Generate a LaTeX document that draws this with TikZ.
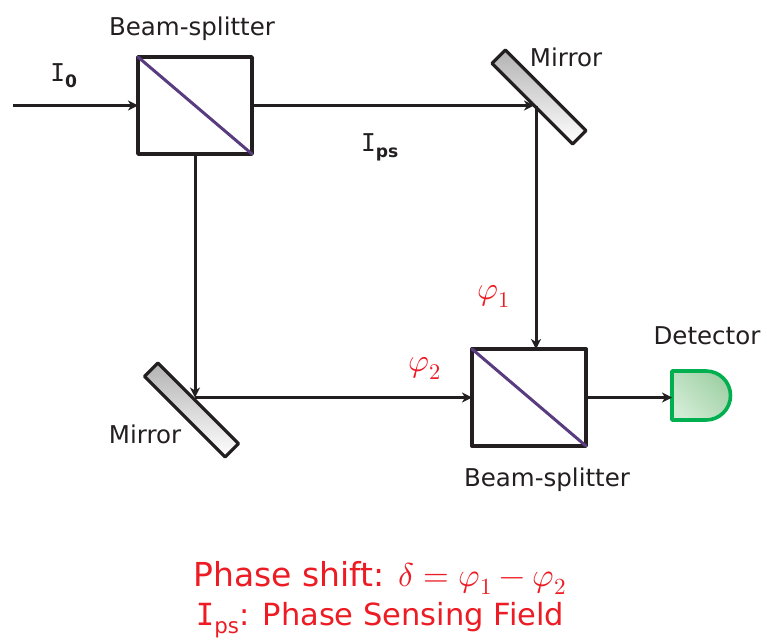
\documentclass[tikz,border=0pt]{standalone}
\usepackage{fontspec}
\usepackage{unicode-math}
\setmainfont{DejaVu Sans}
\setmathfont{Latin Modern Math}
\newfontfamily\barfont{DejaVu Sans Mono}
\usetikzlibrary{arrows.meta}
\definecolor{beam}{RGB}{35,31,32}
\definecolor{split}{RGB}{89,60,128}
\definecolor{redtxt}{RGB}{237,28,36}
\definecolor{detline}{RGB}{0,176,80}
\definecolor{detdark}{RGB}{158,208,165}
\definecolor{detlight}{RGB}{210,235,212}
\newcommand{\barI}{{\barfont I}}
\tikzset{
  every node/.style={inner sep=0pt,outer sep=0pt,text=beam},
  cube/.style={draw=beam,line width=3.4pt,minimum width=114pt,minimum height=97pt,line join=round},
  diag/.style={draw=split,line width=3pt,line cap=round},
  mirrorbar/.style={draw=beam,line width=3.2pt,minimum width=114pt,minimum height=19pt,rotate=-45,line join=round,top color=gray!60,bottom color=white},
  ray/.style={draw=beam,line width=3pt},
  rayarrow/.style={ray,-{Stealth[length=10pt,width=10pt,inset=3pt]}},
  lab/.style={font=\fontsize{24.5}{26}\selectfont},
  redlab/.style={font=\fontsize{33}{36}\selectfont,text=redtxt},
  redlabb/.style={font=\fontsize{30.5}{36}\selectfont,text=redtxt},
  phi/.style={font=\fontsize{32}{32}\selectfont,text=redtxt}
}
\begin{document}
\begin{tikzpicture}[x=1pt,y=-1pt]
\useasboundingbox[fill=white] (0,0) rectangle (767,643);
\node[cube] (bsa) at (195,105.5) {};
\node[cube] (bsb) at (529,397.5) {};
\draw[diag] (bsa.north west) -- (bsa.south east);
\draw[diag] (bsb.north west) -- (bsb.south east);
\node[mirrorbar] (ma) at (539,97) {};
\node[mirrorbar] (mb) at (191.5,410) {};
\coordinate (src) at (13,105.5);
\coordinate (hita) at (536,105.5);
\coordinate (hitb) at (195,397.5);
\coordinate (det) at (672,397.5);
% detector
\shade[top color=detdark,bottom color=detlight,shading angle=-45,draw=detline,line width=3.6pt,line join=round]
  (672,371) -- (706,371) arc[start angle=-90,end angle=90,radius=24.5] -- (672,420) -- cycle;
% beams
\draw[rayarrow] (src) -- (bsa.west);
\draw[rayarrow] (bsa.east) -- ([xshift=-2pt]hita);
\draw[rayarrow] (hita) -- (hita |- bsb.north);
\draw[rayarrow] (bsa.south) -- (hitb);
\draw[rayarrow] (hitb) -- (bsb.west);
\draw[rayarrow] (bsb.east) -- (det);
% labels
\node[lab] (t1) at (192,29) {Beam-splitter};
\node[lab] (t2) at (547,480) {Beam-splitter};
\node[lab] (t3) at (566,57) {Mirror};
\node[lab] (t4) at (145,434) {Mirror};
\node[lab] (t5) at (707,336) {Detector};
\node[lab] (t6) at (64,76) {\barI\textsubscript{\bfseries 0}};
\node[lab] (t7) at (380,147) {\barI\textsubscript{\bfseries ps}};
\node[phi] (p1) at (494,296) {$\varphi_1$};
\node[phi] (p2) at (425,368) {$\varphi_2$};
\node[redlab] (f1) at (380,578) {Phase shift: $\delta=\varphi_1-\varphi_2$};
\node[redlabb] (f2) at (380,620) {\barI\textsubscript{ps}: Phase Sensing Field};
\end{tikzpicture}
\end{document}
